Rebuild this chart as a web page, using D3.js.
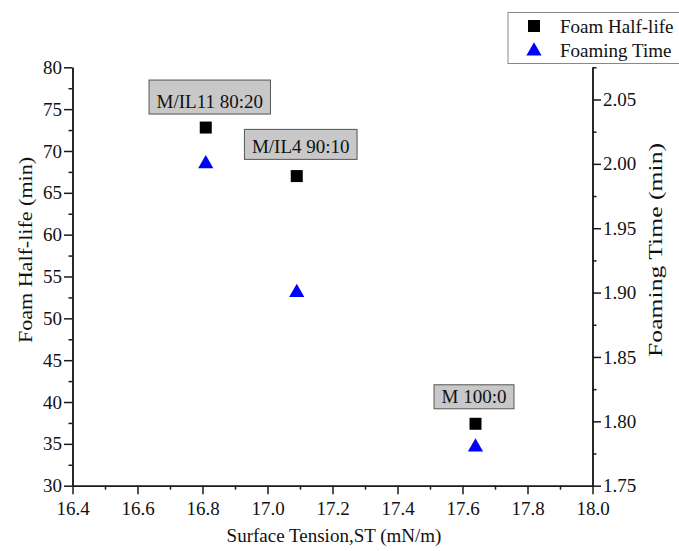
<!DOCTYPE html>
<html>
<head>
<meta charset="utf-8">
<script src="https://cdn.jsdelivr.net/npm/d3@7"></script>
<style>
  body { margin: 0; background: #fff; }
  svg text { font-family: "Liberation Serif", "Times New Roman", serif; font-size: 19px; fill: #111; }
  .axis path, .axis line { stroke: #1a1a1a; stroke-width: 1.5; }
</style>
</head>
<body>
<div id="chart"></div>
<script>
// values
const tension = [16.81, 17.09, 17.64];
const halfLife = [72.8, 67.0, 37.4];
const foamTime = [2.00, 1.90, 1.78];
const samples = ["M/IL11 80:20", "M/IL4 90:10", "M 100:0"];

const xTicks = [16.4, 16.6, 16.8, 17.0, 17.2, 17.4, 17.6, 17.8, 18.0];
const yTicks = [30, 35, 40, 45, 50, 55, 60, 65, 70, 75, 80];
const y2Ticks = [1.75, 1.80, 1.85, 1.90, 1.95, 2.00, 2.05];

const width = 679;
const height = 551;
const margin = { top: 67.3, right: 86.5, bottom: 65.3, left: 72.5 };
const innerWidth = width - margin.left - margin.right;
const innerHeight = height - margin.top - margin.bottom;

// label box layout (offsets from the square marker)
const labelBox = [
  { dx: 4, gap: 13.5, h: 34 },
  { dx: 4, gap: 16.7, h: 30 },
  { dx: -1.5, gap: 15, h: 24 }
];

const svg = d3.select("#chart")
  .append("svg")
  .attr("width", width)
  .attr("height", height);

const chart = svg.append("g")
  .attr("transform", `translate(${margin.left}, ${margin.top})`);

const x = d3.scaleLinear().domain([16.4, 18.0]).range([0, innerWidth]);
const y = d3.scaleLinear().domain([30, 80]).range([innerHeight, 0]);
const y2 = d3.scaleLinear().domain([1.75, 2.075]).range([innerHeight, 0]);

// minor ticks (no labels)
const xMinor = d3.range(16.5, 18.0, 0.2);
const yMinor = d3.range(32.5, 80, 5);
const y2Minor = d3.range(1.775, 2.08, 0.05);

chart.append("g").attr("class", "axis")
  .attr("transform", `translate(0, ${innerHeight})`)
  .call(d3.axisBottom(x).tickValues(xMinor).tickSize(4).tickSizeOuter(0))
  .selectAll("text").remove();
chart.append("g").attr("class", "axis")
  .call(d3.axisLeft(y).tickValues(yMinor).tickSize(4).tickSizeOuter(0))
  .selectAll("text").remove();
chart.append("g").attr("class", "axis")
  .attr("transform", `translate(${innerWidth}, 0)`)
  .call(d3.axisRight(y2).tickValues(y2Minor).tickSize(4).tickSizeOuter(0))
  .selectAll("text").remove();

// major ticks
chart.append("g").attr("class", "axis")
  .attr("transform", `translate(0, ${innerHeight})`)
  .call(d3.axisBottom(x).tickValues(xTicks).tickSize(8.5).tickSizeOuter(0).tickPadding(4).tickFormat(d3.format(".1f")))
  .selectAll("text").attr("dy", "0.9em");

chart.append("g").attr("class", "axis")
  .call(d3.axisLeft(y).tickValues(yTicks).tickSize(8.5).tickSizeOuter(0).tickPadding(2));

chart.append("g").attr("class", "axis")
  .attr("transform", `translate(${innerWidth}, 0)`)
  .call(d3.axisRight(y2).tickValues(y2Ticks).tickSize(8.5).tickSizeOuter(0).tickPadding(2).tickFormat(d3.format(".2f")));

chart.selectAll(".axis text")
  .attr("font-size", null)
  .attr("font-family", null)
  .attr("fill", "#111");
chart.selectAll(".axis").attr("font-size", null).attr("font-family", null);

// points
const square = d3.symbol().type(d3.symbolSquare).size(144);
const triangle = d3.symbol().type(d3.symbolTriangle).size(100);

chart.selectAll(".half")
  .data(tension)
  .enter()
  .append("path")
  .attr("class", "half")
  .attr("d", square)
  .attr("transform", (d, i) => `translate(${x(d)}, ${y(halfLife[i])})`)
  .attr("fill", "#000");

chart.selectAll(".ftime")
  .data(tension)
  .enter()
  .append("path")
  .attr("class", "ftime")
  .attr("d", triangle)
  .attr("transform", (d, i) => `translate(${x(d)}, ${y2(foamTime[i])})`)
  .attr("fill", "#0000ff");

// sample labels in gray boxes
samples.forEach((s, i) => {
  const b = labelBox[i];
  const cx = x(tension[i]) + b.dx;
  const bottom = y(halfLife[i]) - b.gap;
  const g = chart.append("g");
  const rect = g.append("rect");
  const t = g.append("text")
    .attr("x", cx)
    .attr("y", bottom - 6)
    .attr("text-anchor", "middle")
    .text(s);
  const w = t.node().getComputedTextLength() + 15;
  rect.attr("x", cx - w / 2)
    .attr("y", bottom - b.h)
    .attr("width", w)
    .attr("height", b.h)
    .attr("fill", "#c8c8c8")
    .attr("stroke", "#555")
    .attr("stroke-width", 1);
});

// axis titles
svg.append("text")
  .attr("x", 334)
  .attr("y", 542)
  .attr("text-anchor", "middle")
  .text("Surface Tension,ST (mN/m)");

svg.append("text")
  .attr("transform", "translate(32, 250) rotate(-90)")
  .attr("text-anchor", "middle")
  .attr("textLength", 186)
  .attr("lengthAdjust", "spacingAndGlyphs")
  .text("Foam Half-life (min)");

svg.append("text")
  .attr("transform", "translate(662, 250) rotate(-90)")
  .attr("text-anchor", "middle")
  .attr("textLength", 214)
  .attr("lengthAdjust", "spacingAndGlyphs")
  .text("Foaming Time (min)");

// legend
const legend = svg.append("g");
legend.append("rect")
  .attr("x", 508)
  .attr("y", 12.5)
  .attr("width", 200)
  .attr("height", 51)
  .attr("fill", "#fff")
  .attr("stroke", "#888")
  .attr("stroke-width", 1);
legend.append("path")
  .attr("d", square)
  .attr("transform", "translate(534, 26)")
  .attr("fill", "#000");
legend.append("path")
  .attr("d", triangle)
  .attr("transform", "translate(534, 51)")
  .attr("fill", "#0000ff");
legend.append("text")
  .attr("x", 560)
  .attr("y", 33)
  .text("Foam Half-life");
legend.append("text")
  .attr("x", 560)
  .attr("y", 57)
  .text("Foaming Time");
</script>
</body>
</html>
